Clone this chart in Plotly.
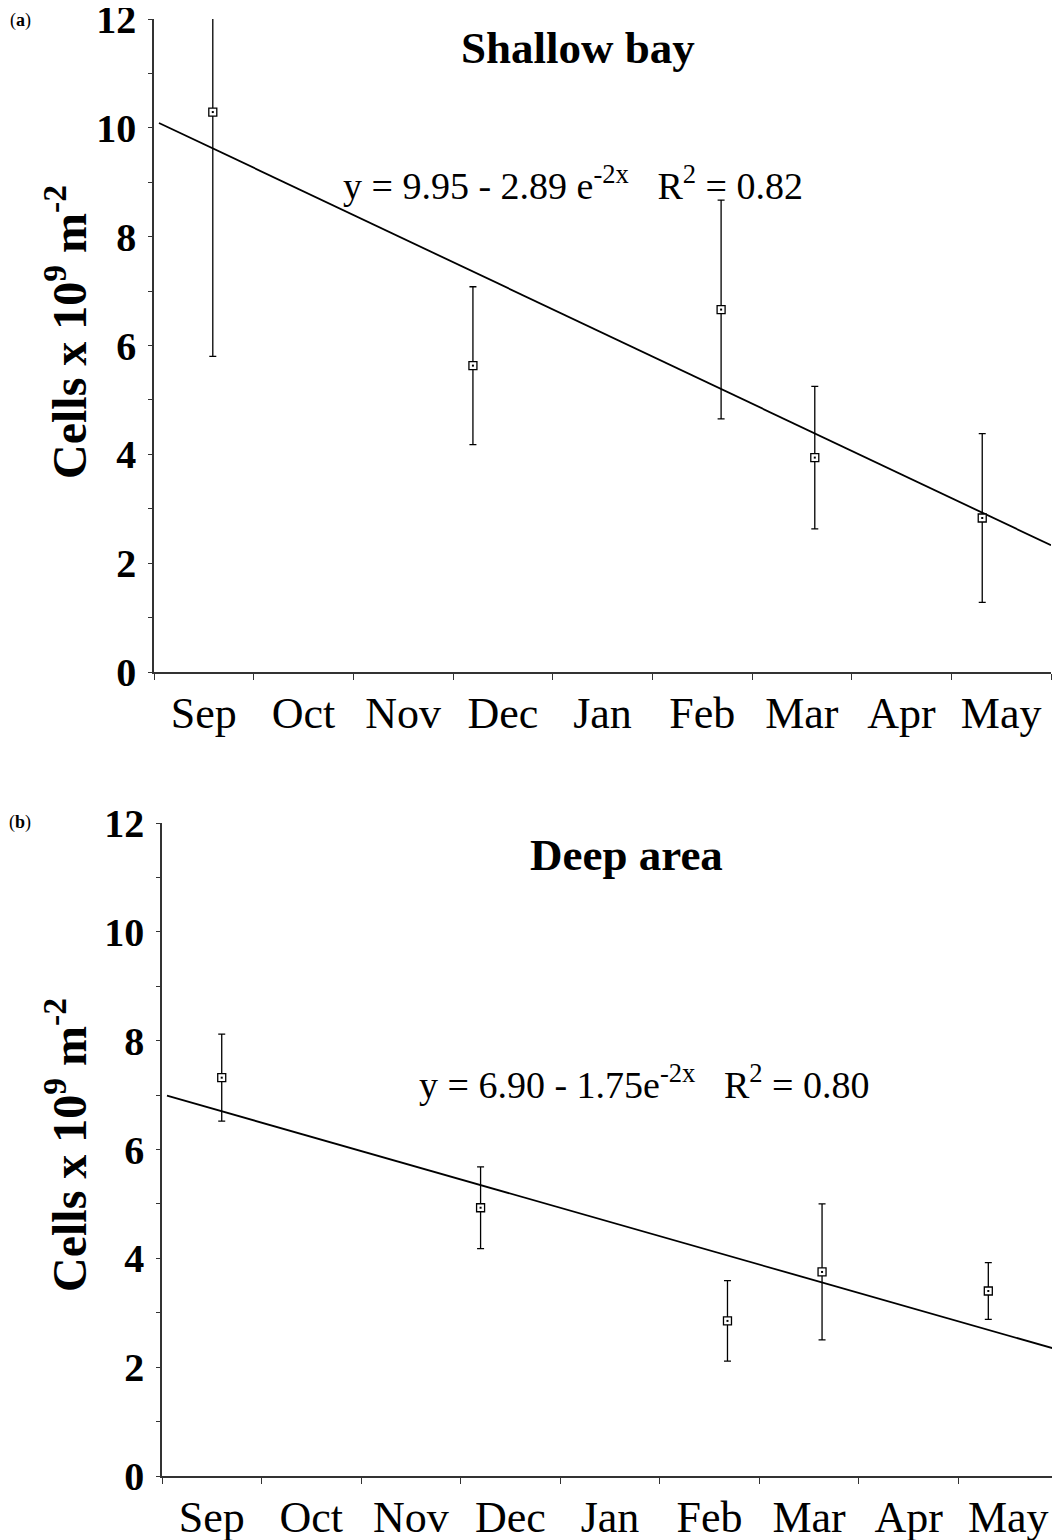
import plotly.graph_objects as go

# The page body has an 8 px default margin; lay the figure out so that it fills the window.
OFF = 8
W, H = 1060 - OFF, 1540 - OFF

months = ["Sep", "Oct", "Nov", "Dec", "Jan", "Feb", "Mar", "Apr", "May"]

# Panel (a) Shallow bay
a_x = [0.59, 3.20, 5.69, 6.63, 8.31]          # sampling time (months since 1 Sep)
a_y = [10.29, 5.63, 6.66, 3.94, 2.83]         # cells x 10^9 m^-2
a_err = [4.49, 1.45, 2.01, 1.31, 1.55]
a_fit_x = [0.05, 9.0]
a_fit_y = [10.09, 2.33]
a_eq = "y = 9.95 - 2.89 e<sup>-2x</sup>   R<sup>2</sup> = 0.82"

# Panel (b) Deep area
b_x = [0.60, 3.20, 5.68, 6.63, 8.30]
b_y = [7.32, 4.93, 2.85, 3.75, 3.40]
b_err = [0.80, 0.75, 0.74, 1.25, 0.52]
b_fit_x = [0.05, 9.0]
b_fit_y = [6.99, 2.32]
b_eq = "y = 6.90 - 1.75e<sup>-2x</sup>   R<sup>2</sup> = 0.80"

FONT = "Liberation Serif"
AX = "#333333"


def px(x):
    return (x - OFF) / W


def py(y):
    return 1 - (y - OFF) / H


fig = go.Figure()

panels = [
    ("x", "y", a_x, a_y, a_err, a_fit_x, a_fit_y),
    ("x2", "y2", b_x, b_y, b_err, b_fit_x, b_fit_y),
]
for xa, ya, xs, ys, es, fx, fy in panels:
    fig.add_trace(go.Scatter(x=fx, y=fy, mode="lines", xaxis=xa, yaxis=ya,
                             line=dict(color="black", width=1.8),
                             showlegend=False, hoverinfo="skip"))
    fig.add_trace(go.Scatter(x=xs, y=ys, mode="markers", xaxis=xa, yaxis=ya,
                             error_y=dict(type="data", array=es, visible=True,
                                          color="black", thickness=1.3, width=3.5),
                             marker=dict(symbol="square", size=8, color="white",
                                         line=dict(color="black", width=1.3)),
                             showlegend=False))
    fig.add_trace(go.Scatter(x=xs, y=ys, mode="markers", xaxis=xa, yaxis=ya,
                             marker=dict(symbol="square", size=2, color="black",
                                         line=dict(width=0)),
                             showlegend=False, hoverinfo="skip"))

xcommon = dict(range=[0, 9], showline=True, linecolor=AX, linewidth=1.5,
               showgrid=False, zeroline=False, automargin=False,
               tickmode="array", tickvals=[i + 0.5 for i in range(9)], ticktext=months,
               ticks="", tickfont=dict(family=FONT, size=44, color="black"),
               ticklabelstandoff=1, ticklabeloverflow="allow",
               minor=dict(tickmode="array", tickvals=list(range(10)), ticks="outside",
                          ticklen=6, tickwidth=1.3, tickcolor=AX))
ycommon = dict(range=[0, 12], showline=True, linecolor=AX, linewidth=1.5,
               showgrid=False, zeroline=False, automargin=False,
               tickmode="array", tickvals=[0, 2, 4, 6, 8, 10, 12],
               ticks="outside", ticklen=4, tickwidth=1.3, tickcolor=AX,
               tickfont=dict(family=FONT, size=40, color="black", weight="bold"),
               ticklabelstandoff=4, ticklabeloverflow="allow",
               minor=dict(tickmode="array", tickvals=[1, 3, 5, 7, 9, 11], ticks="outside",
                          ticklen=4, tickwidth=1.3, tickcolor=AX))

fig.update_layout(
    width=W, height=H,
    margin=dict(l=0, r=0, t=0, b=0, autoexpand=False),
    paper_bgcolor="white", plot_bgcolor="white",
    xaxis=dict(domain=[px(154), px(1051)], anchor="y", **xcommon),
    yaxis=dict(domain=[py(672), py(19)], anchor="x", **ycommon),
    xaxis2=dict(domain=[px(162), px(1058)], anchor="y2", **xcommon),
    yaxis2=dict(domain=[py(1476), py(823)], anchor="x2", **ycommon),
)

ann = []


def add_text(text, x, y, size, bold=False, angle=0, xanchor="center"):
    ann.append(dict(text=text, x=px(x), y=py(y), xref="paper", yref="paper",
                    showarrow=False, textangle=angle, xanchor=xanchor, yanchor="middle",
                    font=dict(family=FONT, size=size, color="black",
                              weight="bold" if bold else "normal")))


ytitle = "<b>Cells x 10<sup>9</sup> m<sup>-2</sup></b>"
add_text("(<b>a</b>)", 20, 20, 18)
add_text("(<b>b</b>)", 20, 822, 18)
add_text("Shallow bay", 578, 48, 45, bold=True)
add_text("Deep area", 626, 855, 45, bold=True)
add_text(a_eq, 573, 183, 38)
add_text(b_eq, 644, 1082, 38)
add_text(ytitle, 66, 332, 48, angle=-90)
add_text(ytitle, 66, 1145, 48, angle=-90)
fig.update_layout(annotations=ann)

fig.write_html("out.html")
